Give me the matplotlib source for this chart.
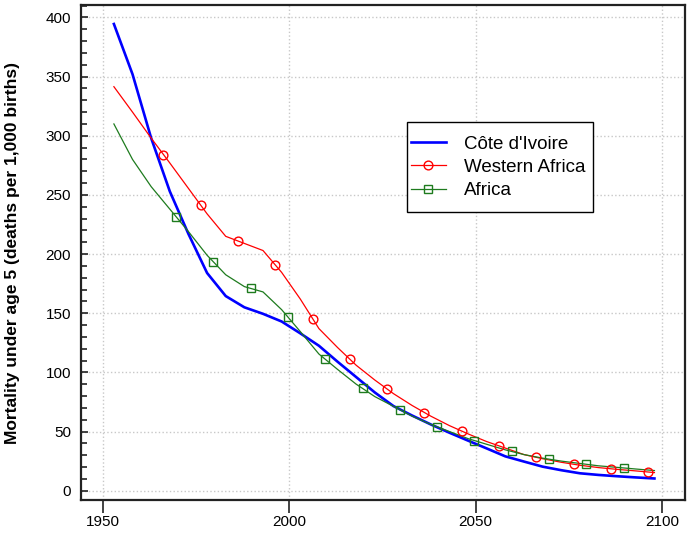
import numpy as np
import matplotlib
matplotlib.use("Agg")
import matplotlib.pyplot as plt
from matplotlib.lines import Line2D
from matplotlib.patches import Rectangle
from matplotlib.ticker import MultipleLocator

plt.rcParams['font.family'] = ['Liberation Sans', 'DejaVu Sans']

# five-year steps, 1953 .. 2098
years = np.arange(1953, 2099, 5)

cote_divoire = [394.5, 352, 298, 253, 217, 184, 164.5, 155, 149.5, 143,
                133, 122.5, 109, 96, 83, 71.5, 63.5, 56, 49, 42.3,
                35.7, 29, 24.6, 20.3, 17.3, 14.7, 13.3, 12.2, 11.2, 10.3]
western_africa = [341.5, 320, 298, 277, 255.5, 234, 215, 209, 203, 184.5,
                  162, 137, 121, 106, 93.5, 82, 72, 63, 55, 48,
                  41.5, 36, 30.5, 27, 24, 21.5, 19.5, 18, 16.7, 15.3]
africa = [310, 280, 257, 238, 219, 199, 182.5, 172.5, 168, 153,
          134.5, 115.5, 102.5, 90, 79.5, 71.3, 63, 56, 50, 44,
          39.2, 34.5, 30.5, 27.5, 25, 23, 21, 19.7, 18.3, 17]

# marker positions along the curves
wa_marker_years = np.arange(1966.3, 2100, 10)
af_marker_years = np.arange(1969.7, 2095, 10)

green = '#1e7b1e'

fig = plt.figure(figsize=(6.97, 5.35), dpi=100)
ax = fig.add_axes([0.1158, 0.0654, 0.867, 0.9247])

ax.plot(years, cote_divoire, color='blue', lw=1.9, zorder=3)
ax.plot(years, western_africa, color='red', lw=0.9, zorder=3)
ax.plot(wa_marker_years, np.interp(wa_marker_years, years, western_africa),
        ls='none', marker='o', ms=6.3, mfc='none', mec='red', mew=1, zorder=4)
ax.plot(years, africa, color=green, lw=0.9, zorder=3)
ax.plot(af_marker_years, np.interp(af_marker_years, years, africa),
        ls='none', marker='s', ms=5.8, mfc='none', mec=green, mew=1, zorder=4)

ax.set_xlim(1944.1, 2106.2)
ax.set_ylim(-7.9, 410.3)
ax.set_xticks([1950, 2000, 2050, 2100])
ax.yaxis.set_major_locator(MultipleLocator(50))
ax.yaxis.set_minor_locator(MultipleLocator(10))

ax.grid(True, which='major', color='#c8c8c8', ls=':', lw=1)
ax.set_axisbelow(True)

ax.tick_params(axis='x', direction='out', length=9, width=1.2, pad=2,
               labelsize=11, color='#222222')
ax.tick_params(axis='y', which='major', direction='in', length=5, width=1.2,
               pad=7, labelsize=11, color='#222222')
ax.tick_params(axis='y', which='minor', direction='in', length=4, width=1.2,
               color='#222222')
for s in ax.spines.values():
    s.set_linewidth(1.6)
    s.set_color('#222222')

ax.set_ylabel("Mortality under age 5 (deaths per 1,000 births)",
              fontsize=12.5, fontweight='bold')
ax.yaxis.set_label_coords(-0.1004, 0.5)

# title sits mostly above the canvas, only descenders show
fig.text(0.549, 1.0145, "Mortality under age 5", ha='center', va='baseline',
         fontsize=17, fontweight='bold')

handles = [
    Line2D([], [], color='blue', lw=1.9),
    Line2D([], [], color='red', lw=0.9, marker='o', ms=6.3, mfc='none', mew=1),
    Line2D([], [], color=green, lw=0.9, marker='s', ms=5.8, mfc='none', mew=1),
]
leg = ax.legend(handles, ["Côte d'Ivoire", "Western Africa", "Africa"],
                loc='center left', bbox_to_anchor=(0.546, 0.6725),
                fontsize=13.5, frameon=False, borderpad=0, labelspacing=0.33,
                handlelength=1.9, handletextpad=0.95, borderaxespad=0)
leg.set_zorder(6)
# legend box drawn separately: taller than wide padding
ax.add_patch(Rectangle((0.5395, 0.5828), 0.3088, 0.1807, transform=ax.transAxes,
                       facecolor='white', edgecolor='black', lw=1, zorder=5))

fig.savefig("out.png", dpi=100)
